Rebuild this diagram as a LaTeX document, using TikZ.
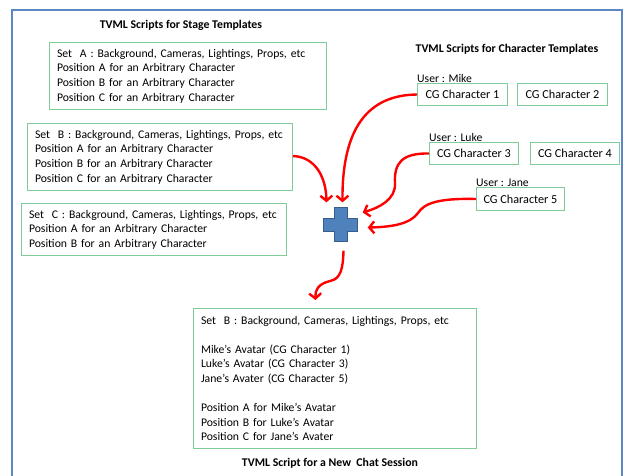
\documentclass[tikz,border=0pt]{standalone}
\usepackage{fontspec}
\setmainfont{Carlito}
\usetikzlibrary{arrows.meta,positioning}
\definecolor{framebl}{HTML}{5B87C5}
\definecolor{boxgr}{HTML}{7FCC98}
\definecolor{plusbl}{HTML}{4F81BD}
\definecolor{plusdk}{HTML}{385D8A}

\begin{document}
\begin{tikzpicture}[x=1pt,y=-1pt,
  every node/.style={font=\fontsize{11.7}{14.6}\selectfont},
  setbox/.style={draw=boxgr,line width=1pt,anchor=north west,align=left,inner xsep=7.5pt,inner ysep=0pt},
  charbox/.style={draw=boxgr,line width=1pt,anchor=north west,minimum width=90pt,minimum height=22pt,inner sep=0pt,font=\fontsize{12.2}{14.6}\selectfont},
  heading/.style={font=\fontsize{11.8}{14}\selectfont\bfseries},
  link/.style={red,line width=2.4pt,-{Straight Barb[length=5pt,width=12pt]}}]
\useasboundingbox (0,0) rectangle (627,475);
\draw [framebl,line width=1.2pt] (12,10) rectangle (622,495);
\node [heading] (stagett) at (181,25) {TVML Scripts for Stage Templates};
\node [setbox,text width=262pt,minimum height=67pt] (setA) at (49,42)
  {Set\ \ A : Background, Cameras, Lightings, Props, etc\\Position A for an Arbitrary Character\\Position B for an Arbitrary Character\\Position C for an Arbitrary Character};
\node [setbox,text width=250pt,minimum height=67pt] (setB) at (27,123)
  {Set\ \ B : Background, Cameras, Lightings, Props, etc\\Position A for an Arbitrary Character\\Position B for an Arbitrary Character\\Position C for an Arbitrary Character};
\node [setbox,text width=250pt,minimum height=52pt] (setC) at (21,203)
  {Set\ \ C : Background, Cameras, Lightings, Props, etc\\Position A for an Arbitrary Character\\Position B for an Arbitrary Character};
\node [heading] (chartt) at (507,49) {TVML Scripts for Character Templates};
\node [charbox] (ch1) at (417,83) {CG Character 1};
\node [charbox] (ch2) at (517,83) {CG Character 2};
\node [charbox,minimum width=89pt] (ch3) at (429,142) {CG Character 3};
\node [charbox,minimum width=89pt] (ch4) at (530,142) {CG Character 4};
\node [charbox,minimum width=88pt,minimum height=23pt] (ch5) at (476,187) {CG Character 5};
\node [anchor=base west,inner sep=0pt] (mike) at (417,82) {User : Mike};
\node [anchor=base west,inner sep=0pt] (luke) at (429,141) {User : Luke};
\node [anchor=base west,inner sep=0pt] (jane) at (476,186) {User : Jane};
\node [minimum size=34pt,inner sep=0pt] (plus) at (340.5,224.5) {};
\draw [plusdk,fill=plusbl,line width=0.8pt]
  ([xshift=-6.5pt]plus.north) -- ([xshift=6.5pt]plus.north) -- ([xshift=6.5pt,yshift=6.5pt]plus.center)
  -- ([yshift=6.5pt]plus.east) -- ([yshift=-6.5pt]plus.east) -- ([xshift=6.5pt,yshift=-6.5pt]plus.center)
  -- ([xshift=6.5pt]plus.south) -- ([xshift=-6.5pt]plus.south) -- ([xshift=-6.5pt,yshift=-6.5pt]plus.center)
  -- ([yshift=-6.5pt]plus.west) -- ([yshift=6.5pt]plus.west) -- ([xshift=-6.5pt,yshift=6.5pt]plus.center) -- cycle;
\node [setbox,text width=268pt,minimum height=140pt] (chat) at (193,308)
  {Set\ \ B : Background, Cameras, Lightings, Props, etc\\[14.6pt]Mike’s Avatar (CG Character 1)\\Luke’s Avatar (CG Character 3)\\Jane’s Avater (CG Character 5)\\[14.6pt]Position A for Mike’s Avatar\\Position B for Luke’s Avatar\\Position C for Jane’s Avater};
\node [heading] (chattt) at (330,463) {TVML Script for a New\ \ Chat Session};
\draw [link] ([yshift=1pt]setB.east) .. controls (316,157) and (326,178) .. ([xshift=-14pt,yshift=5pt]plus.north);
\draw [link] (ch1.west) .. controls (368,95) and (342,128) .. ([xshift=2pt,yshift=5pt]plus.north);
\draw [link] (ch3.west) .. controls (402,153) and (394,163) .. (395,183) .. controls (396,200) and (378,208) .. ([xshift=5pt,yshift=12pt]plus.east);
\draw [link] (ch5.west) .. controls (436,198) and (424,204) .. (418,213) .. controls (410,224) and (392,227) .. ([xshift=10pt,yshift=-3pt]plus.east);
\draw [link] ([xshift=3pt,yshift=-9pt]plus.south) .. controls (343,268) and (341,279) .. (330,281) .. controls (318,284) and (315,290) .. ([xshift=-19.5pt,yshift=8pt]chat.north);
\end{tikzpicture}
\end{document}
